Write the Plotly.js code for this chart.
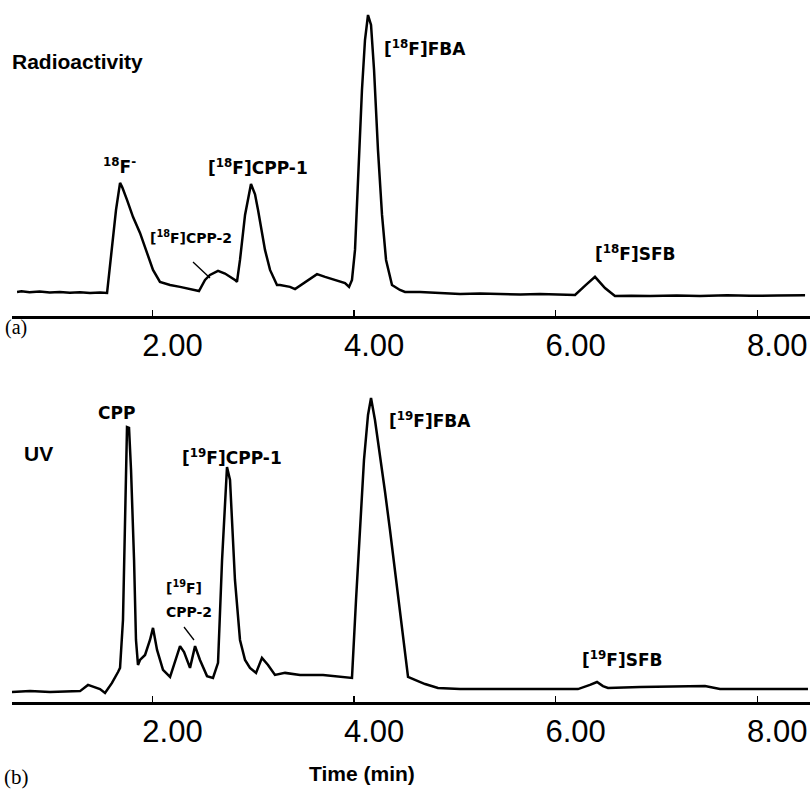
<!DOCTYPE html>
<html>
<head>
<meta charset="utf-8">
<script src="https://cdn.plot.ly/plotly-3.0.1.min.js"></script>
<style>html,body{margin:0;padding:0;background:#fff;}#chart{width:810px;height:789px;}</style>
</head>
<body>
<div id="chart"></div>
<script>
// ---- Data (time in min, detector response in arbitrary units) ----
const radTime = [0.656,0.70,0.78,0.88,0.98,1.08,1.18,1.28,1.38,1.48,1.549,1.578,1.608,1.638,1.678,1.70,1.747,1.807,1.876,1.945,2.005,2.074,2.174,2.273,2.372,2.461,2.521,2.570,2.650,2.719,2.818,2.838,2.868,2.918,2.977,3.017,3.047,3.116,3.166,3.235,3.265,3.364,3.414,3.513,3.632,3.712,3.811,3.910,3.950,3.979,4.009,4.039,4.078,4.108,4.138,4.168,4.198,4.237,4.277,4.317,4.376,4.455,4.505,4.654,4.85,5.051,5.25,5.448,5.65,5.844,6.05,6.192,6.30,6.39,6.489,6.588,6.75,6.936,7.2,7.432,7.7,7.928,8.2,8.474];
const radSignal = [0.4,0.6,0.3,0.5,0.2,0.4,0.1,0.3,0.0,0.2,0.0,10.1,19.8,29.9,39.6,38.0,33.5,27.3,21.6,14.4,8.3,4.0,2.9,2.2,1.5,0.7,4.7,6.5,8.0,7.0,4.7,4.0,11.9,28.1,39.2,35.5,29.9,15.5,8.3,2.9,2.9,2.2,1.4,4.0,6.8,5.8,4.7,3.6,2.2,4.7,15.5,40.6,73.0,91.0,100,96.4,80.2,51.4,28.1,11.9,2.9,1.1,0.4,0.4,0.0,-0.4,-0.2,-0.4,-0.5,-0.4,-0.6,-0.7,2.9,5.8,1.8,-1.1,-1.0,-1.1,-0.9,-1.1,-0.8,-1.0,-0.9,-0.8];

const uvTime = [0.606,0.785,0.983,1.182,1.281,1.360,1.430,1.479,1.529,1.598,1.658,1.678,1.707,1.727,1.747,1.767,1.787,1.817,1.836,1.856,1.876,1.926,1.975,2.005,2.045,2.104,2.174,2.213,2.273,2.313,2.372,2.422,2.471,2.541,2.600,2.650,2.690,2.739,2.769,2.818,2.868,2.918,2.967,3.027,3.086,3.146,3.215,3.315,3.464,3.692,3.959,3.979,4.019,4.059,4.098,4.138,4.168,4.207,4.257,4.307,4.356,4.406,4.455,4.505,4.535,4.604,4.704,4.832,5.051,5.448,5.844,6.221,6.340,6.410,6.469,6.519,6.837,7.233,7.481,7.630,8.027,8.503];
const uvSignal = [0.0,0.3,0.0,0.3,0.3,2.4,1.7,1.0,-0.3,3.1,6.8,8.2,24.5,61.9,90.1,89.8,75.5,44.9,17.7,9.2,10.9,12.6,17.7,21.8,14.3,7.5,5.1,9.2,15.6,13.6,8.2,15.6,10.9,5.4,4.8,9.9,44.9,76.5,72.1,38.1,17.7,10.9,8.2,6.5,11.6,9.2,5.8,6.5,5.8,5.8,4.8,4.8,31.3,55.1,78.9,94.2,100,92.5,80.6,68.0,55.1,41.5,27.9,12.6,5.1,4.1,2.7,1.4,1.0,1.0,1.0,1.0,2.4,3.4,2.0,1.4,1.7,2.0,2.0,1.0,1.0,1.0];

const tickVals = [2, 4, 6, 8];
const tickText = ['2.00', '4.00', '6.00', '8.00'];

const radLabels = [
  {text: 'Radioactivity', px: 10, py: 62, size: 21, fam: 'Liberation Sans, Arial, sans-serif', anchor: 'left'},
  {text: '<sup>18</sup>F<sup>-</sup>', px: 119, py: 166, size: 17},
  {text: '[<sup>18</sup>F]CPP-1', px: 258, py: 167, size: 17},
  {text: '[<sup>18</sup>F]CPP-2', px: 191, py: 237, size: 14},
  {text: '[<sup>18</sup>F]FBA', px: 425, py: 48, size: 17},
  {text: '[<sup>18</sup>F]SFB', px: 635, py: 253, size: 17}
];
const uvLabels = [
  {text: 'UV', px: 22, py: 453, size: 21, fam: 'Liberation Sans, Arial, sans-serif', anchor: 'left'},
  {text: 'CPP', px: 117, py: 413, size: 17},
  {text: '[<sup>19</sup>F]CPP-1', px: 232, py: 457, size: 17},
  {text: '[<sup>19</sup>F]', px: 184, py: 587, size: 14},
  {text: 'CPP-2', px: 189, py: 612, size: 14},
  {text: '[<sup>19</sup>F]FBA', px: 430, py: 420, size: 17},
  {text: '[<sup>19</sup>F]SFB', px: 622, py: 659, size: 17}
];

// ---- Layout helpers (pixel -> paper) ----
const W = 810, H = 789;
const fx = p => p / W;
const fy = p => 1 - p / H;

const xRange = [0.606, 8.523];
const axisCommon = {
  range: xRange, domain: [fx(12), 1],
  showgrid: false, zeroline: false,
  showline: true, linecolor: '#000', linewidth: 3,
  ticks: 'inside', ticklen: 6, tickwidth: 1.5, tickcolor: '#000',
  tickmode: 'array', tickvals: tickVals, ticktext: tickText,
  tickfont: {family: 'Liberation Sans, Arial, sans-serif', size: 31, color: '#000'},
  ticklabelshift: 20, fixedrange: true
};

function mkAnn(l) {
  return {
    xref: 'paper', yref: 'paper', x: fx(l.px), y: fy(l.py),
    xanchor: l.anchor || 'center', yanchor: 'middle', showarrow: false,
    text: '<b>' + l.text + '</b>',
    font: {family: l.fam || 'DejaVu Sans, Verdana, sans-serif', size: l.size, color: '#000'}
  };
}

const annotations = radLabels.concat(uvLabels).map(mkAnn);
annotations.push({xref: 'paper', yref: 'paper', x: fx(3), y: fy(327), xanchor: 'left', yanchor: 'middle', showarrow: false, text: '(a)', font: {family: 'Liberation Serif, Times New Roman, serif', size: 20, color: '#000'}});
annotations.push({xref: 'paper', yref: 'paper', x: fx(2), y: fy(777), xanchor: 'left', yanchor: 'middle', showarrow: false, text: '(b)', font: {family: 'Liberation Serif, Times New Roman, serif', size: 21, color: '#000'}});
annotations.push({xref: 'paper', yref: 'paper', x: fx(362), y: fy(773), xanchor: 'center', yanchor: 'middle', showarrow: false, text: '<b>Time (min)</b>', font: {family: 'Liberation Sans, Arial, sans-serif', size: 21, color: '#000'}});

const shapes = [
  {type: 'line', xref: 'paper', yref: 'paper', x0: fx(193), y0: fy(262), x1: fx(210), y1: fy(278), line: {color: '#000', width: 1.3}},
  {type: 'line', xref: 'paper', yref: 'paper', x0: fx(184), y0: fy(627), x1: fx(194), y1: fy(640), line: {color: '#000', width: 1.3}}
];

const traces = [
  {x: radTime, y: radSignal, xaxis: 'x', yaxis: 'y', type: 'scatter', mode: 'lines', line: {color: '#000', width: 2.5}, hoverinfo: 'skip'},
  {x: uvTime, y: uvSignal, xaxis: 'x2', yaxis: 'y2', type: 'scatter', mode: 'lines', line: {color: '#000', width: 2.5}, hoverinfo: 'skip'}
];

const layout = {
  width: W, height: H,
  margin: {l: 0, r: 0, t: 0, b: 0},
  paper_bgcolor: '#fff', plot_bgcolor: '#fff',
  showlegend: false,
  xaxis: Object.assign({}, axisCommon, {anchor: 'y'}),
  xaxis2: Object.assign({}, axisCommon, {anchor: 'y2'}),
  yaxis: {domain: [fy(316), fy(10)], range: [-8.27, 101.8], visible: false, fixedrange: true},
  yaxis2: {domain: [fy(702), fy(395)], range: [-3.40, 101.0], visible: false, fixedrange: true},
  annotations: annotations,
  shapes: shapes
};

Plotly.newPlot('chart', traces, layout, {displayModeBar: false, staticPlot: true});
</script>
</body>
</html>
